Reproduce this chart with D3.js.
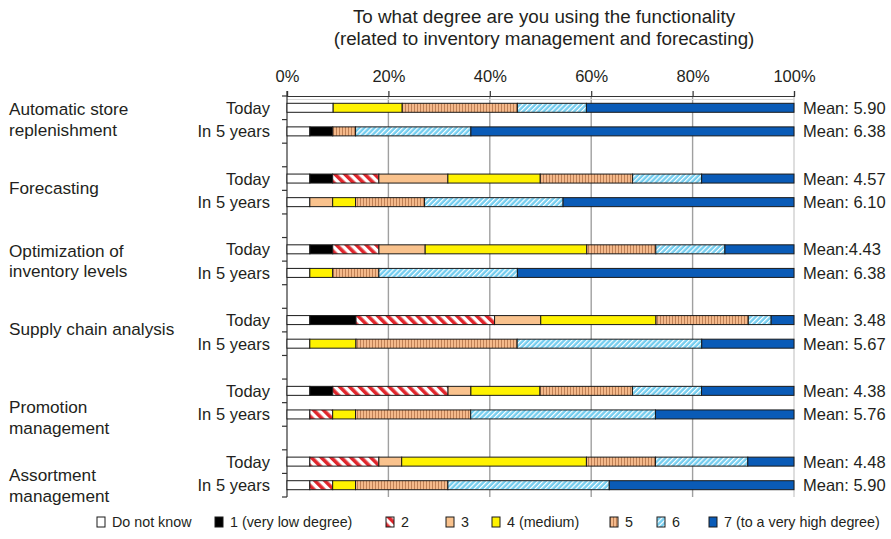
<!DOCTYPE html>
<html><head><meta charset="utf-8">
<script src="https://cdn.jsdelivr.net/npm/d3@7"></script>
<style>
html,body{margin:0;padding:0;background:#fff;}
svg{display:block;font-family:"Liberation Sans",Arial,Helvetica,sans-serif;fill:#231f20;}
</style></head>
<body><svg id="chart" width="891" height="539"></svg>
<script>
// ---- data ----
const categoryLines = [
  ["Automatic store", "replenishment"],
  ["Forecasting"],
  ["Optimization of", "inventory levels"],
  ["Supply chain analysis"],
  ["Promotion", "management"],
  ["Assortment", "management"]
];
const periods = ["Today", "In 5 years"];
const seriesNames = ["Do not know", "1 (very low degree)", "2", "3", "4 (medium)", "5", "6", "7 (to a very high degree)"];
// percentages per row: [cat0 Today, cat0 In 5 years, cat1 Today, ...]
const dontKnow = [9.1, 4.5, 4.5, 4.5, 4.5, 4.5, 4.5, 4.5, 4.5, 4.5, 4.5, 4.5];
const level1   = [0, 4.5, 4.5, 0, 4.5, 0, 9.1, 0, 4.5, 0, 0, 0];
const level2   = [0, 0, 9.1, 0, 9.1, 0, 27.3, 0, 22.7, 4.5, 13.6, 4.5];
const level3   = [0, 0, 13.6, 4.5, 9.1, 0, 9.1, 0, 4.5, 0, 4.5, 0];
const level4   = [13.6, 0, 18.2, 4.5, 31.8, 4.5, 22.7, 9.1, 13.6, 4.5, 36.4, 4.5];
const level5   = [22.7, 4.5, 18.2, 13.6, 13.6, 9.1, 18.2, 31.8, 18.2, 22.7, 13.6, 18.2];
const level6   = [13.6, 22.7, 13.6, 27.3, 13.6, 27.3, 4.5, 36.4, 13.6, 36.4, 18.2, 31.8];
const level7   = [40.9, 63.6, 18.2, 45.5, 13.6, 54.5, 4.5, 18.2, 18.2, 27.3, 9.1, 36.4];
const meanLabels = ["Mean: 5.90", "Mean: 6.38", "Mean: 4.57", "Mean: 6.10", "Mean:4.43", "Mean: 6.38",
                    "Mean: 3.48", "Mean: 5.67", "Mean: 4.38", "Mean: 5.76", "Mean: 4.48", "Mean: 5.90"];
const xTicks = [0, 0.2, 0.4, 0.6, 0.8, 1];
const titleLines = ["To what degree are you using the functionality", "(related to inventory management and forecasting)"];

const seriesValues = [dontKnow, level1, level2, level3, level4, level5, level6, level7];

// ---- build table ----
const rows = [];
categoryLines.forEach((c, ci) => periods.forEach((p, pi) => {
  const idx = ci * 2 + pi;
  const r = {key: ci + "|" + p, cat: ci, period: p, mean: meanLabels[idx]};
  seriesNames.forEach((s, si) => r[s] = seriesValues[si][idx]);
  rows.push(r);
}));
const slots = [];
categoryLines.forEach((c, ci) => {
  slots.push(ci + "|Today", ci + "|In 5 years");
  if (ci < categoryLines.length - 1) slots.push("gap" + ci);
});

const svg = d3.select("#chart");
const defs = svg.append("defs");
const p2 = defs.append("pattern").attr("id", "pat2").attr("patternUnits", "userSpaceOnUse")
  .attr("width", 7).attr("height", 7).attr("patternTransform", "rotate(-45)");
p2.append("rect").attr("width", 7).attr("height", 7).attr("fill", "#fff");
p2.append("rect").attr("width", 3.6).attr("height", 7).attr("fill", "#e0262c");
const p5 = defs.append("pattern").attr("id", "pat5").attr("patternUnits", "userSpaceOnUse")
  .attr("width", 3).attr("height", 6);
p5.append("rect").attr("width", 3).attr("height", 6).attr("fill", "#f4b98b");
p5.append("rect").attr("width", 0.9).attr("height", 6).attr("fill", "#b9794f");
const p6 = defs.append("pattern").attr("id", "pat6").attr("patternUnits", "userSpaceOnUse")
  .attr("width", 3.6).attr("height", 6).attr("patternTransform", "rotate(45)");
p6.append("rect").attr("width", 3.6).attr("height", 6).attr("fill", "#74cdef");
p6.append("rect").attr("width", 1.2).attr("height", 6).attr("fill", "#ffffff");

const fills = ["#ffffff", "#000000", "url(#pat2)", "#f9c28d", "#fff200", "url(#pat5)", "url(#pat6)", "#0a5bb7"];
const color = d3.scaleOrdinal().domain(seriesNames).range(fills);

const x = d3.scaleLinear().domain([0, 1]).range([287, 794]);
const y = d3.scaleBand().domain(slots).range([96, 497]).paddingInner(0).paddingOuter(0);
const barH = 9;

const stack = d3.stack().keys(seriesNames).offset(d3.stackOffsetExpand);
const stacked = stack(rows);

// gridlines
svg.append("g").selectAll("line").data(xTicks.filter(t => t > 0)).join("line")
  .attr("x1", d => x(d)).attr("x2", d => x(d))
  .attr("y1", 96).attr("y2", 497)
  .attr("stroke", d => d === 1 ? "#d0d0d0" : "#a0a0a0").attr("stroke-width", 1.4);

// title
svg.append("g").selectAll("text").data(titleLines).join("text")
  .attr("x", 544).attr("y", (d, i) => 23 + i * 22)
  .attr("text-anchor", "middle").attr("font-size", 18.8).text(d => d);

// top axis
const xAxis = d3.axisTop(x).tickValues(xTicks).tickFormat(d3.format(".0%")).tickSize(5).tickPadding(9);
const gx = svg.append("g").attr("transform", "translate(0,96)").call(xAxis);
gx.select(".domain").attr("stroke", "#333").attr("stroke-width", 1.2);
gx.selectAll(".tick line").attr("stroke", "#333").attr("stroke-width", 1.2);
gx.selectAll(".tick text").attr("font-size", 16.5).attr("fill", "#231f20")
  .attr("font-family", "'Liberation Sans',Arial,sans-serif");
svg.append("line").attr("x1", 287).attr("x2", 794).attr("y1", 99.5).attr("y2", 99.5)
  .attr("stroke", "#d8d8d8").attr("stroke-width", 1);

// left axis with ticks at slot boundaries
const boundaries = slots.map(s => y(s)).concat([y(slots[slots.length - 1]) + y.bandwidth()]);
svg.append("line").attr("x1", 287).attr("x2", 287).attr("y1", 91).attr("y2", 497)
  .attr("stroke", "#333").attr("stroke-width", 1.2);
svg.append("g").selectAll("line").data(boundaries).join("line")
  .attr("x1", 282).attr("x2", 287).attr("y1", d => d).attr("y2", d => d)
  .attr("stroke", "#333").attr("stroke-width", 1.2);

// bars
svg.append("g").selectAll("g").data(stacked).join("g")
  .attr("fill", d => color(d.key))
  .selectAll("rect").data(d => d.filter(v => v[1] - v[0] > 0)).join("rect")
  .attr("x", d => x(d[0])).attr("width", d => x(d[1]) - x(d[0]))
  .attr("y", d => y(d.data.key) + (y.bandwidth() - barH) / 2).attr("height", barH)
  .attr("stroke", "#1a1a1a").attr("stroke-width", 1);

// period labels
svg.append("g").selectAll("text").data(rows).join("text")
  .attr("x", 270).attr("y", d => y(d.key) + y.bandwidth() / 2 + 6)
  .attr("text-anchor", "end").attr("font-size", 16.5).text(d => d.period);

// mean labels
svg.append("g").selectAll("text").data(rows).join("text")
  .attr("x", 803).attr("y", d => y(d.key) + y.bandwidth() / 2 + 6)
  .attr("font-size", 16.5).text(d => d.mean);

// category labels
const labelShift = [0, -2, 0, -3, 15, 12];
const catG = svg.append("g");
categoryLines.forEach((lines, ci) => {
  const c = (y(ci + "|Today") + y(ci + "|In 5 years") + y.bandwidth()) / 2 + labelShift[ci];
  lines.forEach((ln, li) => {
    catG.append("text").attr("x", 9)
      .attr("y", c + (li - (lines.length - 1) / 2) * 20.5 + 6)
      .attr("font-size", 17.2).text(ln);
  });
});

// legend
const legendX = [97, 215, 386, 446, 492, 610, 657, 709];
const lg = svg.append("g").selectAll("g").data(seriesNames).join("g")
  .attr("transform", (d, i) => `translate(${legendX[i]},517)`);
lg.append("rect").attr("width", 8).attr("height", 10).attr("fill", d => color(d))
  .attr("stroke", "#1a1a1a").attr("stroke-width", 1);
lg.append("text").attr("x", 15).attr("y", 10).attr("font-size", 14.3).text(d => d);
</script>
</body></html>
